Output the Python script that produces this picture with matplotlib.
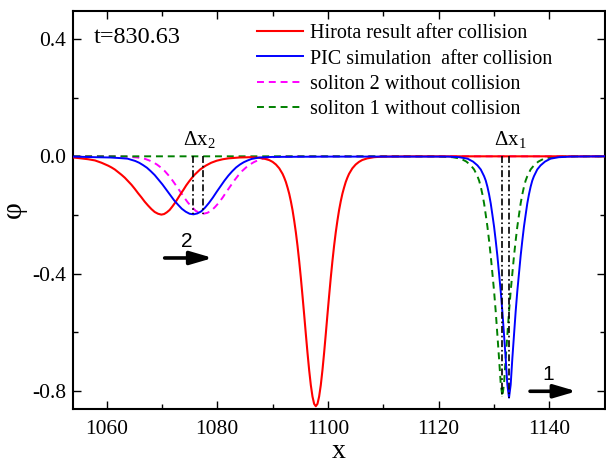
import matplotlib
matplotlib.use("Agg")
import matplotlib.pyplot as plt
from matplotlib.ticker import MultipleLocator, FormatStrFormatter

plt.rcParams['font.family'] = ['Liberation Serif', 'DejaVu Serif']
plt.rcParams['mathtext.fontset'] = 'custom'
plt.rcParams['mathtext.rm'] = 'Liberation Serif'
plt.rcParams['mathtext.it'] = 'Liberation Serif:italic'
plt.rcParams['axes.unicode_minus'] = False
plt.rcParams['lines.scale_dashes'] = False

# ---------------- data ----------------
hirota = [(1054, -0.004), (1055.4, -0.007), (1056.7, -0.010), (1057.9, -0.014), (1059.1, -0.022),
          (1059.7, -0.027), (1060.3, -0.032), (1060.9, -0.038), (1061.5, -0.045), (1062.1, -0.054),
          (1062.7, -0.063), (1063.3, -0.073), (1063.9, -0.085), (1064.5, -0.097), (1065.1, -0.111),
          (1065.7, -0.126), (1066.3, -0.140), (1066.9, -0.155), (1067.5, -0.168), (1068.1, -0.180),
          (1068.7, -0.190), (1069.3, -0.196), (1069.9, -0.199), (1070.4, -0.197), (1070.9, -0.191),
          (1071.4, -0.183), (1071.9, -0.171), (1072.4, -0.158), (1072.9, -0.143), (1073.4, -0.128),
          (1073.9, -0.114), (1074.4, -0.099), (1074.9, -0.086), (1075.4, -0.074), (1075.9, -0.063),
          (1076.9, -0.045), (1077.9, -0.032), (1078.9, -0.022), (1079.9, -0.015), (1081.0, -0.010),
          (1082.0, -0.007), (1084.0, -0.004), (1086.0, -0.003), (1087.5, -0.005), (1088.5, -0.008),
          (1089.4, -0.013), (1090.0, -0.019), (1090.6, -0.028), (1091.2, -0.041), (1091.8, -0.060),
          (1092.1, -0.073), (1092.4, -0.088), (1092.7, -0.107), (1093.0, -0.128), (1093.3, -0.154),
          (1093.6, -0.184), (1093.9, -0.220), (1094.2, -0.260), (1094.5, -0.306), (1094.8, -0.358),
          (1095.1, -0.415), (1095.4, -0.477), (1095.7, -0.541), (1096.0, -0.607), (1096.3, -0.671),
          (1096.6, -0.730), (1096.9, -0.781), (1097.2, -0.820), (1097.5, -0.845), (1097.8, -0.853),
          (1098.1, -0.845), (1098.4, -0.820), (1098.7, -0.781), (1099.0, -0.730), (1099.3, -0.671),
          (1099.6, -0.607), (1099.9, -0.541), (1100.2, -0.477), (1100.5, -0.415), (1100.8, -0.358),
          (1101.1, -0.306), (1101.4, -0.260), (1101.7, -0.220), (1102.0, -0.184), (1102.3, -0.154),
          (1102.6, -0.128), (1102.9, -0.107), (1103.2, -0.088), (1103.5, -0.073), (1103.8, -0.060),
          (1104.4, -0.041), (1105.0, -0.028), (1105.6, -0.019), (1106.2, -0.0125), (1107.1, -0.007),
          (1108.3, -0.003), (1109.8, -0.001), (1115, 0.0), (1150, 0.0)]

pic = [(1054, -0.001), (1056, -0.002), (1058, -0.003), (1060.7, -0.004), (1062.4, -0.006),
       (1063.8, -0.008), (1065.2, -0.016), (1065.9, -0.022), (1066.6, -0.030), (1067.3, -0.039),
       (1068.0, -0.051), (1068.7, -0.064), (1069.4, -0.080), (1070.1, -0.096), (1070.8, -0.114),
       (1071.5, -0.132), (1072.2, -0.150), (1072.9, -0.165), (1073.6, -0.179), (1074.3, -0.189),
       (1075.0, -0.196), (1075.7, -0.198), (1076.4, -0.195), (1077.1, -0.188), (1077.8, -0.175),
       (1078.5, -0.159), (1079.2, -0.141), (1079.9, -0.121), (1080.6, -0.102), (1081.3, -0.083),
       (1082.0, -0.066), (1082.7, -0.051), (1083.4, -0.038), (1084.1, -0.028), (1084.8, -0.020),
       (1085.5, -0.014), (1086.2, -0.009), (1087.6, -0.004), (1090, -0.002), (1100, -0.001),
       (1121.7, -0.001), (1123.7, -0.003), (1125.2, -0.008), (1126.2, -0.018), (1127.0, -0.031),
       (1127.6, -0.045), (1128.2, -0.068), (1128.5, -0.083), (1128.8, -0.104), (1129.1, -0.130),
       (1129.4, -0.161), (1129.7, -0.200), (1130.0, -0.240), (1130.3, -0.288), (1130.6, -0.340),
       (1130.9, -0.400), (1131.2, -0.460), (1131.5, -0.530), (1131.8, -0.610), (1132.1, -0.690),
       (1132.4, -0.780), (1132.7, -0.824), (1133.0, -0.780), (1133.3, -0.690), (1133.6, -0.610),
       (1133.9, -0.530), (1134.2, -0.460), (1134.5, -0.400), (1134.8, -0.340), (1135.1, -0.288),
       (1135.4, -0.240), (1135.7, -0.200), (1136.0, -0.161), (1136.3, -0.130), (1136.6, -0.104),
       (1136.9, -0.083), (1137.2, -0.068), (1137.8, -0.045), (1138.4, -0.031), (1139.2, -0.018),
       (1140.2, -0.008), (1141.7, -0.003), (1143.7, -0.001), (1150, 0.0)]

soliton2 = [(1054, 0.0), (1060, 0.0), (1063.5, -0.001), (1065.6, -0.004), (1067.0, -0.009),
            (1067.7, -0.014), (1068.4, -0.020), (1069.1, -0.028), (1069.8, -0.038), (1070.5, -0.050),
            (1071.2, -0.065), (1071.9, -0.082), (1072.6, -0.101), (1073.3, -0.120), (1074.0, -0.140),
            (1074.7, -0.158), (1075.4, -0.173), (1076.1, -0.186), (1076.8, -0.193), (1077.5, -0.196),
            (1078.2, -0.193), (1078.9, -0.186), (1079.6, -0.173), (1080.3, -0.158), (1081.0, -0.140),
            (1081.7, -0.120), (1082.4, -0.101), (1083.1, -0.082), (1083.8, -0.065), (1084.5, -0.050),
            (1085.2, -0.038), (1085.9, -0.028), (1086.6, -0.020), (1087.3, -0.014), (1088.0, -0.009),
            (1089.4, -0.004), (1091.5, -0.001), (1095, 0.0), (1150, 0.0)]

soliton1 = [(1054, 0.0), (1119, 0.0), (1120.5, -0.001), (1122.5, -0.003), (1124.0, -0.008),
            (1125.0, -0.018), (1125.8, -0.031), (1126.4, -0.045), (1127.0, -0.068), (1127.3, -0.083),
            (1127.6, -0.104), (1127.9, -0.130), (1128.2, -0.161), (1128.5, -0.200), (1128.8, -0.240),
            (1129.1, -0.288), (1129.4, -0.340), (1129.7, -0.400), (1130.0, -0.460), (1130.3, -0.530),
            (1130.6, -0.610), (1130.9, -0.690), (1131.2, -0.775), (1131.5, -0.820), (1131.8, -0.775),
            (1132.1, -0.690), (1132.4, -0.610), (1132.7, -0.530), (1133.0, -0.460), (1133.3, -0.400),
            (1133.6, -0.340), (1133.9, -0.288), (1134.2, -0.240), (1134.5, -0.200), (1134.8, -0.161),
            (1135.1, -0.130), (1135.4, -0.104), (1135.7, -0.083), (1136.0, -0.068), (1136.6, -0.045),
            (1137.2, -0.031), (1138.0, -0.018), (1139.0, -0.008), (1140.5, -0.003), (1142.5, -0.001),
            (1145, 0.0), (1150, 0.0)]

dx2_x = [1075.7, 1077.5]
dx2_y = [-0.198, -0.196]
dx1_x = [1131.5, 1132.7]
dx1_y = [-0.820, -0.824]

labels = ["Hirota result after collision", "PIC simulation  after collision",
          "soliton 2 without collision", "soliton 1 without collision"]
time_label = "t=830.63"
x_ticks = [1060, 1080, 1100, 1120, 1140]
y_ticks = [-0.8, -0.4, 0.0, 0.4]

# ---------------- figure ----------------
fig = plt.figure(figsize=(6.06, 4.66), dpi=100)
ax = fig.add_axes([0.121, 0.122, 0.877, 0.855])

hx, hy = zip(*hirota)
px, py = zip(*pic)
s2x, s2y = zip(*soliton2)
s1x, s1y = zip(*soliton1)

ax.plot(hx, hy, color='#ff0000', lw=1.5, label=labels[0], zorder=3)
ax.plot(px, py, color='#0000ff', lw=1.4, label=labels[1], zorder=4)
ax.plot(s2x, s2y, color='#ff00ff', lw=1.4, dashes=(5, 3.5), label=labels[2], zorder=2)
ax.plot(s1x, s1y, color='#008000', lw=1.4, dashes=(5, 3.5), label=labels[3], zorder=2)

for xs, ys in ((dx2_x, dx2_y), (dx1_x, dx1_y)):
    for xv, yv in zip(xs, ys):
        ax.plot([xv, xv], [0.0, yv], color='black', lw=1.2, dashes=(5, 2, 1.2, 2), zorder=5)

ax.set_xlim(1054, 1150)
ax.set_ylim(-0.863, 0.497)
ax.set_xticks(x_ticks)
ax.set_yticks(y_ticks)
ax.xaxis.set_minor_locator(MultipleLocator(10))
ax.yaxis.set_minor_locator(MultipleLocator(0.2))
ax.yaxis.set_major_formatter(FormatStrFormatter('%.1f'))
ax.tick_params(which='both', direction='in', top=True, right=True, labelsize=15.5, width=1.0)
ax.tick_params(which='major', length=6)
ax.tick_params(which='minor', length=3.5)
ax.tick_params(axis='x', pad=8)
ax.tick_params(axis='y', pad=5)
for s in ax.spines.values():
    s.set_linewidth(1.5)

ax.set_xlabel('x', fontsize=20, labelpad=0)
ax.set_ylabel('φ', fontsize=21, labelpad=4)

ax.text(1057.6, 0.405, time_label, fontsize=17.5, va='center', ha='left')
ax.text(1073.9, 0.04, r'$\Delta\mathrm{x}_2$', fontsize=15, va='baseline', ha='left')
ax.text(1129.9, 0.04, r'$\Delta\mathrm{x}_1$', fontsize=15, va='baseline', ha='left')

arrow = dict(arrowstyle='-|>,head_length=0.75,head_width=0.22', lw=2.6, color='black',
             mutation_scale=18, shrinkA=0, shrinkB=0)
ax.annotate('', xy=(1079.2, -0.347), xytext=(1070.5, -0.347), arrowprops=arrow)
ax.text(1074.5, -0.311, '2', fontsize=15, ha='center', va='baseline',
        family=['Liberation Sans', 'DejaVu Sans'])
ax.annotate('', xy=(1144.9, -0.802), xytext=(1136.5, -0.802), arrowprops=arrow)
ax.text(1139.8, -0.764, '1', fontsize=15, ha='center', va='baseline',
        family=['Liberation Sans', 'DejaVu Sans'])

ax.legend(loc='upper left', bbox_to_anchor=(0.345, 0.966), frameon=False, fontsize=14.5,
          handlelength=2.3, handletextpad=0.35, labelspacing=0.3, borderpad=0,
          borderaxespad=0)

fig.savefig('out.png', dpi=100)
